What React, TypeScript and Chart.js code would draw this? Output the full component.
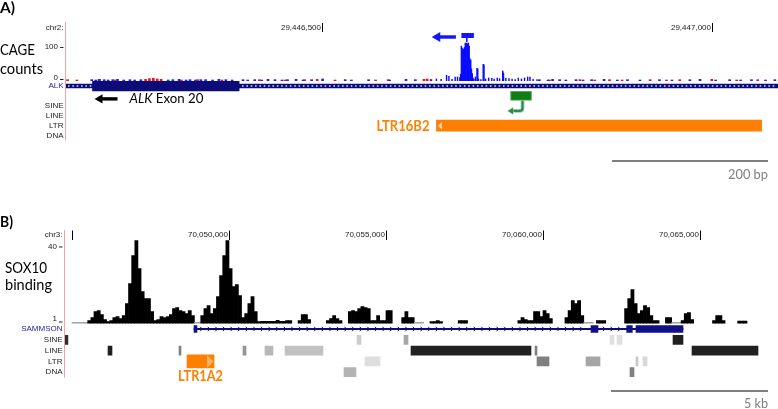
import React, { useEffect, useRef } from 'react';
import { Chart, registerables } from 'chart.js';

Chart.register(...registerables);

// ================= Panel A : chr2 (hg19) — ALK exon 20 / LTR16B2 =================
const A_VIEW = [29446172, 29447085];
const A_TICKS = [29446500, 29447000];
const A_CHROM = 'chr2:';
const A_TRACKS = ['ALK', 'ATI', 'SINE', 'LINE', 'LTR', 'DNA'];
const A_TRACK_NAMES = ['ALK', '', 'SINE', 'LINE', 'LTR', 'DNA'];
const CAGE_RANGE = [0, 152];
const CAGE_LABELS = [100, 0];

// CAGE positions are bp after chr2:29,446,000
const CAGE_ORIGIN = 29446000;
const CAGE_MINUS_POS = [640, 647, 653, 660, 663, 667, 671, 674, 677, 678, 679, 680, 681, 682, 683, 684, 685, 686, 687, 688, 689, 690, 691, 692, 693, 694, 695, 697, 699, 700, 701, 704, 707, 708, 710, 714, 718, 721, 725, 728, 732, 733, 736, 740, 744, 748, 752, 756, 760, 764, 767, 771, 776];
const CAGE_MINUS_VAL = [4, 6, 5, 17, 14, 5, 12, 12, 10, 20, 104, 98, 92, 95, 100, 113, 112, 113, 110, 113, 104, 66, 62, 36, 22, 9, 5, 12, 38, 36, 6, 4, 50, 48, 6, 9, 8, 6, 9, 7, 30, 24, 8, 7, 6, 4, 9, 6, 9, 12, 12, 5, 4];
const CAGE_LOW_MINUS_POS = [205, 210, 215, 221, 226, 232, 238, 246, 254, 260, 268, 303, 309, 317, 326, 331, 338, 345, 351, 360, 368, 377, 385, 399, 405, 414, 423, 431, 440, 449, 456, 467, 476, 487, 501, 530, 538, 560, 587, 608, 620, 779, 790, 796, 805, 813, 826, 835, 846, 862, 879, 892, 908, 933, 949, 972, 985, 1005, 1023, 1037, 1051, 1069, 1081];
const CAGE_LOW_MINUS_VAL = [4, 3, 5, 4, 3, 4, 5, 3, 4, 3, 4, 3, 4, 5, 3, 4, 3, 4, 4, 3, 5, 4, 3, 4, 3, 4, 3, 5, 4, 3, 4, 5, 3, 4, 6, 4, 3, 4, 3, 5, 4, 4, 3, 5, 4, 3, 4, 3, 4, 5, 3, 4, 3, 4, 3, 4, 5, 3, 4, 3, 4, 3, 4];
const CAGE_LOW_PLUS_POS = [174, 186, 214, 235, 274, 279, 284, 289, 294, 320, 341, 372, 420, 453, 478, 494, 517, 569, 585, 631, 635, 640, 792, 831, 850, 869, 885, 921, 942, 959, 1000, 1032, 1059];
const CAGE_LOW_PLUS_VAL = [4, 3, 4, 3, 5, 7, 8, 6, 5, 3, 4, 3, 4, 3, 4, 5, 3, 3, 4, 5, 6, 4, 3, 4, 3, 4, 3, 4, 3, 4, 5, 3, 4];
const CAGE_CLUSTER = [29446679, 29446695];
const CAGE_CLUSTER_PEAK = 29446686;
const CAGE_ARROW = [29446641, 29446672];

const ALK_TX = [29415640, 30144477];
const ALK_EXON20 = [29446206, 29446394];
const ATI_TSS_BOX = [29446742, 29446769];
const LTR16B2 = [29446647, 29447064];
const A_SCALE_BP = 200;

// ================= Panel B : chr3 (hg19) — SAMMSON / LTR1A2 =================
const B_VIEW = [70044777, 70067486];
const B_TICKS = [70045000, 70050000, 70055000, 70060000, 70065000];
const B_CHROM = 'chr3:';
const B_TRACKS = ['SAMMSON', 'SINE', 'LINE', 'LTR', 'DNA'];
const SOX10_RANGE = [0, 45];
const SOX10_LABELS = [40, 1];

const SOX10_START = 70044800;
const SOX10_BIN = 100;
const SOX10_VALUES = [
  null, null, 0.6, 0.6, 0.6, 0.6, 0.6, 1.6, 3.1, 6.3,
  6.8, 4.7, 2.1, 1.0, 1.6, 3.1, 3.7, 2.6, 4.2, 10.4,
  20.9, 35.5, 43.3, 28.7, 16.7, 13.1, 13.1, 6.3, 1.6, 2.1,
  3.7, 3.1, 3.7, 4.7, 7.8, 8.4, 6.8, 6.3, 5.2, 6.8,
  4.2, 0.6, 0.6, 4.2, 7.8, 9.4, 5.2, 7.8, 14.1, 25.1,
  35.5, 43.3, 28.7, 19.3, 20.4, 14.6, 3.1, 5.2, 10.4, 14.1,
  6.3, 1.0, 1.2, 1.2, 1.2, 1.2, 1.2, 1.7, 1.2, 1.2,
  1.6, 1.6, null, null, 1.6, 4.7, 4.7, 2.1, null, null,
  null, null, null, 1.6, 2.6, 4.2, 2.6, 1.6, null, null,
  6.3, 6.8, 6.3, 7.8, 8.9, 8.4, 7.8, 1.6, 1.6, 4.2,
  1.6, 1.6, 6.8, 6.8, null, null, null, 3.1, 6.3, 3.1,
  3.1, 0.6, 0.6, 0.6, null, null, 1.0, 1.0, 1.6, 1.0,
  null, null, null, null, null, 1.6, 1.6, 1.6, null, null,
  null, null, null, null, null, null, null, null, null, null,
  null, null, null, null, 1.6, 3.1, 2.1, 1.6, 1.6, 6.3,
  6.3, 3.7, 6.8, 5.2, 2.6, null, null, null, null, 3.1,
  6.8, 12.0, 10.4, 12.0, 4.2, 0.6, 0.6, 0.6, null, 1.6,
  1.6, 1.6, null, null, null, null, null, null, 7.8, 13.1,
  17.8, 10.4, 5.2, 6.8, 9.4, 8.4, 4.2, 1.6, 1.6, null,
  null, 3.1, 3.1, 0.6, 0.6, 0.6, 1.6, 5.2, 5.7, 2.1,
  null, null, null, null, null, null, 1.6, 4.2, 4.2, 1.6,
  null, null, null, null, 1.3, 1.3, 1.3, null, null, null,
  null, null, null, null, null, null, null,
];

const SAMMSON_TX = [70048886, 70064460];
const SAMMSON_EXON_START = [70048886, 70061530, 70062667, 70062963];
const SAMMSON_EXON_END = [70048981, 70061753, 70062846, 70064460];

const REP_B_START = [70044780, 70054077, 70055574, 70062135, 70062358, 70064142, 70046147, 70048408, 70050446, 70051147, 70051784, 70055797, 70059747, 70064747, 70054332, 70059810, 70061371, 70062963, 70063186, 70053663, 70062772];
const REP_B_END = [70044870, 70054205, 70055702, 70062263, 70062518, 70064460, 70046274, 70048472, 70050542, 70051401, 70052994, 70059619, 70059810, 70066849, 70054810, 70060192, 70061817, 70063027, 70063314, 70054045, 70062900];
const REP_B_CLASS = ['SINE', 'SINE', 'SINE', 'SINE', 'SINE', 'SINE', 'LINE', 'LINE', 'LINE', 'LINE', 'LINE', 'LINE', 'LINE', 'LINE', 'LTR', 'LTR', 'LTR', 'LTR', 'LTR', 'DNA', 'DNA'];
const REP_B_SHADE = [0.82, 0.2, 0.35, 0.12, 0.12, 0.88, 0.88, 0.5, 0.42, 0.28, 0.24, 0.87, 0.5, 0.87, 0.13, 0.5, 0.35, 0.22, 0.15, 0.3, 0.5];
const LTR1A2 = [70048663, 70049523];
const B_SCALE_BP = 5000;

// ================= styles =================
const FONT_UCSC = '8px "Liberation Sans", Arial, sans-serif';
const FONT_UI = 'Lato, "Open Sans", sans-serif';
const NAVY = '#0c0c78';
const GENE_LABEL = '#1c1c9c';
const LABEL = '#222222';
const ORANGE = '#ff8000';
const PINK = '#f2a2a2';
const SCALE_GRAY = '#7f7f7f';

type TextOpts = { font: string; color?: string; align?: CanvasTextAlign; baseline?: CanvasTextBaseline; width?: number };

function drawText(ctx: CanvasRenderingContext2D, s: string, x: number, y: number, o: TextOpts) {
  ctx.save();
  ctx.font = o.font;
  ctx.fillStyle = o.color || '#000';
  ctx.textAlign = o.align || 'left';
  ctx.textBaseline = o.baseline || 'alphabetic';
  const k = o.width ? o.width / ctx.measureText(s).width : 1;
  ctx.translate(x, y);
  ctx.scale(k, 1);
  ctx.fillText(s, 0, 0);
  ctx.restore();
}

function drawRich(ctx: CanvasRenderingContext2D, parts: { s: string; font: string }[], x: number, y: number, color: string, width: number) {
  ctx.save();
  let total = 0;
  for (const p of parts) { ctx.font = p.font; total += ctx.measureText(p.s).width; }
  ctx.translate(x, y);
  ctx.scale(width / total, 1);
  ctx.fillStyle = color;
  ctx.textAlign = 'left';
  ctx.textBaseline = 'alphabetic';
  let cx = 0;
  for (const p of parts) { ctx.font = p.font; ctx.fillText(p.s, cx, 0); cx += ctx.measureText(p.s).width; }
  ctx.restore();
}

function line(ctx: CanvasRenderingContext2D, x1: number, y1: number, x2: number, y2: number, color: string, w = 1) {
  ctx.save();
  ctx.strokeStyle = color;
  ctx.lineWidth = w;
  ctx.beginPath();
  ctx.moveTo(x1, y1);
  ctx.lineTo(x2, y2);
  ctx.stroke();
  ctx.restore();
}

function poly(ctx: CanvasRenderingContext2D, pts: number[][], color: string) {
  ctx.save();
  ctx.fillStyle = color;
  ctx.beginPath();
  pts.forEach(([px, py], i) => (i ? ctx.lineTo(px, py) : ctx.moveTo(px, py)));
  ctx.closePath();
  ctx.fill();
  ctx.restore();
}

function drawRuler(ctx: CanvasRenderingContext2D, scale: any, ticks: number[], chrom: string, left: number, yTop: number, yBot: number) {
  const yMid = (yTop + yBot) / 2;
  drawText(ctx, chrom, left - 2.5, yMid, { font: FONT_UCSC, color: LABEL, align: 'right', baseline: 'middle' });
  ctx.save();
  ctx.font = FONT_UCSC;
  for (const t of ticks) {
    const px = Math.round(scale.getPixelForValue(t)) + 0.5;
    line(ctx, px, yTop, px, yBot, '#000', 1);
    const label = t.toLocaleString('en-US');
    const w = ctx.measureText(label).width;
    if (px - 2 - w > left + 2) drawText(ctx, label, px - 1.5, yMid, { font: FONT_UCSC, color: LABEL, align: 'right', baseline: 'middle' });
  }
  ctx.restore();
}

function drawYLabel(ctx: CanvasRenderingContext2D, v: number, py: number, textDy: number, dashDy: number, left: number) {
  drawText(ctx, String(v), left - 8, py + textDy, { font: FONT_UCSC, color: LABEL, align: 'right', baseline: 'middle' });
  line(ctx, left - 6, py + dashDy, left - 2.5, py + dashDy, LABEL, 1);
}

function scaleBar(ctx: CanvasRenderingContext2D, scale: any, bp: number, right: number, y: number, label: string, textY: number, textW: number) {
  const len = scale.getPixelForValue(scale.min + bp) - scale.getPixelForValue(scale.min);
  line(ctx, right - len, y, right, y, SCALE_GRAY, 2);
  drawText(ctx, label, right, textY, { font: `13px ${FONT_UI}`, color: SCALE_GRAY, align: 'right', width: textW });
}

// ---------------- Panel A overlay ----------------
const panelAPlugin = {
  id: 'panelA',
  afterDraw(chart: any) {
    const { ctx, chartArea: area, scales } = chart;
    const { x, xT, yS, yT } = scales;
    drawText(ctx, 'A)', 0, 12.5, { font: `bold 15px ${FONT_UI}`, width: 15 });
    drawText(ctx, 'CAGE', 0, 55, { font: `15px ${FONT_UI}`, width: 35 });
    drawText(ctx, 'counts', 0, 74, { font: `15px ${FONT_UI}`, width: 43 });
    line(ctx, area.left - 0.5, 22, area.left - 0.5, area.bottom, PINK, 1);
    drawRuler(ctx, x, A_TICKS, A_CHROM, area.left, 23, 32);
    CAGE_LABELS.forEach((v, i) => {
      const py = yS.getPixelForValue(v);
      if (i === 0) drawYLabel(ctx, v, py, -1, 0, area.left);
      else drawYLabel(ctx, v, py, -3.5, -1.5, area.left);
    });
    A_TRACK_NAMES.forEach((name, i) => {
      if (!name) return;
      drawText(ctx, name, area.left - 2.5, yT.getPixelForValue(i), { font: FONT_UCSC, color: i === 0 ? GENE_LABEL : LABEL, align: 'right', baseline: 'middle' });
    });

    // ALK intron strand marks (minus strand)
    const gy = yT.getPixelForValue(0);
    const e0 = xT.getPixelForValue(ALK_EXON20[0]);
    const e1 = xT.getPixelForValue(ALK_EXON20[1]);
    ctx.save();
    ctx.fillStyle = 'rgba(190,190,240,0.85)';
    for (let px = area.left + 2; px < area.right - 1; px += 4.35) {
      if (px > e0 - 2 && px < e1 + 1) continue;
      ctx.fillRect(px, gy - 1, 1.6, 2);
    }
    ctx.restore();

    // "<- ALK Exon 20"
    const ly = yT.getPixelForValue(1);
    poly(ctx, [[e0 + 2, ly + 3], [e0 + 10, ly - 1.6], [e0 + 10, ly + 7.6]], '#000');
    ctx.fillStyle = '#000';
    ctx.fillRect(e0 + 9, ly + 1.3, 16, 3.4);
    drawRich(ctx, [
      { s: 'ALK', font: `italic 13px ${FONT_UI}` },
      { s: ' Exon 20', font: `13px ${FONT_UI}` },
    ], e0 + 37, ly + 7.2, '#000', 74);

    // CAGE TSS cluster annotation (minus strand)
    const ct = area.top;
    const c0 = x.getPixelForValue(CAGE_CLUSTER[0]);
    const c1 = x.getPixelForValue(CAGE_CLUSTER[1]);
    const cp = x.getPixelForValue(CAGE_CLUSTER_PEAK);
    ctx.fillStyle = '#1414ff';
    ctx.fillRect(c0, ct + 3, c1 - c0, 5);
    ctx.fillRect(cp - 0.8, ct + 8, 1.6, 4);
    const a0 = x.getPixelForValue(CAGE_ARROW[0]);
    const a1 = x.getPixelForValue(CAGE_ARROW[1]);
    poly(ctx, [[a0, ct + 7], [a0 + 8.5, ct + 2], [a0 + 8.5, ct + 12]], '#1414ff');
    ctx.fillStyle = '#1414ff';
    ctx.fillRect(a0 + 8, ct + 5.3, a1 - a0 - 8, 3.4);

    // ALK-ATI transcription start (hooked arrow)
    const b0 = xT.getPixelForValue(ATI_TSS_BOX[0]);
    const b1 = xT.getPixelForValue(ATI_TSS_BOX[1]);
    const bx = (b0 + b1) / 2 + 1.5;
    const by = ly + 4.5;
    const hy = by + 10.5;
    const tip = b0 - 2.5;
    ctx.save();
    ctx.lineJoin = 'round';
    for (const [col, w] of [['#a9d6d0', 4], ['#2f8a45', 2.2]] as [string, number][]) {
      ctx.strokeStyle = col;
      ctx.lineWidth = w;
      ctx.beginPath();
      ctx.moveTo(bx, by);
      ctx.lineTo(bx, hy - 3);
      ctx.quadraticCurveTo(bx, hy, bx - 3, hy);
      ctx.lineTo(tip + 5, hy);
      ctx.stroke();
    }
    ctx.restore();
    poly(ctx, [[tip - 1, hy], [tip + 5.5, hy - 4.2], [tip + 5.5, hy + 4.2]], '#a9d6d0');
    poly(ctx, [[tip, hy], [tip + 5, hy - 3.2], [tip + 5, hy + 3.2]], '#2f8a45');

    // LTR16B2 label + strand mark
    const ry = yT.getPixelForValue(4);
    const r0 = xT.getPixelForValue(LTR16B2[0]);
    poly(ctx, [[r0 + 1.5, ry], [r0 + 5.5, ry - 4], [r0 + 5.5, ry + 4]], '#ffd2a6');
    drawText(ctx, 'LTR16B2', r0 - 7, ry + 5.4, { font: `bold 15px ${FONT_UI}`, color: ORANGE, align: 'right', width: 53 });

    scaleBar(ctx, x, A_SCALE_BP, 768, 161, '200 bp', 178.5, 40);
  },
};

// ---------------- Panel B overlay ----------------
const panelBPlugin = {
  id: 'panelB',
  afterDraw(chart: any) {
    const { ctx, chartArea: area, scales } = chart;
    const { x, xT, yS, yT } = scales;
    drawText(ctx, 'B)', 0, 226.5, { font: `bold 15px ${FONT_UI}`, width: 13 });
    drawText(ctx, 'SOX10', 5, 273.3, { font: `15px ${FONT_UI}`, width: 42 });
    drawText(ctx, 'binding', 5, 290, { font: `15px ${FONT_UI}`, width: 47 });
    line(ctx, area.left - 0.5, 230, area.left - 0.5, area.bottom, PINK, 1);
    drawRuler(ctx, x, B_TICKS, B_CHROM, area.left, 230.5, 240);
    SOX10_LABELS.forEach((v, i) => {
      const py = yS.getPixelForValue(v);
      if (i === 0) drawYLabel(ctx, v, py, -0.5, 0, area.left);
      else drawYLabel(ctx, v, py, -3, 0.3, area.left);
    });
    B_TRACKS.forEach((name, i) => {
      drawText(ctx, name, area.left - 2.5, yT.getPixelForValue(i), { font: FONT_UCSC, color: i === 0 ? GENE_LABEL : LABEL, align: 'right', baseline: 'middle' });
    });

    // SAMMSON intron strand chevrons (plus strand)
    const gy = yT.getPixelForValue(0);
    const t0 = xT.getPixelForValue(SAMMSON_TX[0]);
    const t1 = xT.getPixelForValue(SAMMSON_TX[1]);
    ctx.save();
    ctx.strokeStyle = NAVY;
    ctx.lineWidth = 1;
    for (let px = t0 + 8; px < t1 - 2; px += 7.6) {
      const inExon = SAMMSON_EXON_START.some((s, k) => px > xT.getPixelForValue(s) - 2.5 && px < xT.getPixelForValue(SAMMSON_EXON_END[k]) + 3);
      if (inExon) continue;
      ctx.beginPath();
      ctx.moveTo(px - 1.8, gy - 2.2);
      ctx.lineTo(px, gy);
      ctx.lineTo(px - 1.8, gy + 2.2);
      ctx.stroke();
    }
    ctx.restore();

    // LTR1A2 strand mark + label
    const ry = yT.getPixelForValue(3);
    const l0 = xT.getPixelForValue(LTR1A2[0]);
    const l1 = xT.getPixelForValue(LTR1A2[1]);
    poly(ctx, [[l1 - 7, ry - 6.5], [l1 - 0.5, ry], [l1 - 7, ry + 6.5]], '#ffb366');
    drawText(ctx, 'LTR1A2', (l0 + l1) / 2, 380.7, { font: `bold 15px ${FONT_UI}`, color: ORANGE, align: 'center', width: 45 });

    scaleBar(ctx, x, B_SCALE_BP, 768, 391, '5 kb', 408, 24);
  },
};

const signalBase = { type: 'bar', xAxisID: 'x', yAxisID: 'yS', grouped: false, barPercentage: 1, categoryPercentage: 1, borderWidth: 0, clip: 0 };
const trackBase = { type: 'bar', indexAxis: 'y', xAxisID: 'xT', yAxisID: 'yT', grouped: false, borderWidth: 0, borderSkipped: false, clip: 0 };

function baseOptions(view: number[], tracks: string[], range: number[], pad: any, trackWeight: number, signalWeight: number) {
  return {
    responsive: false,
    animation: false,
    devicePixelRatio: 1,
    events: [],
    layout: { padding: pad },
    plugins: { legend: { display: false }, tooltip: { enabled: false } },
    scales: {
      x: { type: 'linear', display: false, min: view[0], max: view[1], offset: false, bounds: 'data' },
      xT: { type: 'linear', display: false, min: view[0], max: view[1], offset: false, bounds: 'data' },
      yT: { type: 'category', labels: tracks, display: false, offset: true, position: 'left', stack: 'tracks', stackWeight: trackWeight },
      yS: { type: 'linear', display: false, min: range[0], max: range[1], position: 'left', stack: 'tracks', stackWeight: signalWeight },
    },
  };
}

function makeChartA(canvas: HTMLCanvasElement) {
  const pts = (pos: number[], val: number[]) => pos.map((p, i) => ({ x: CAGE_ORIGIN + p, y: val[i] }));
  return new Chart(canvas, {
    type: 'bar',
    data: {
      datasets: [
        { ...trackBase, label: 'ALK exon 20', data: [{ x: ALK_EXON20, y: 'ALK' }], barThickness: 10, backgroundColor: NAVY },
        { ...trackBase, label: 'ALK', data: [{ x: ALK_TX, y: 'ALK' }], barThickness: 4, backgroundColor: NAVY },
        { ...trackBase, label: 'ALK-ATI TSS', data: [{ x: ATI_TSS_BOX, y: 'ATI' }], barThickness: 9, backgroundColor: '#0f7d12', borderColor: '#5aa55a', borderWidth: 1 },
        { ...trackBase, label: 'LTR16B2', data: [{ x: LTR16B2, y: 'LTR' }], barThickness: 11, backgroundColor: ORANGE },
        { ...signalBase, label: 'CAGE (-)', data: pts(CAGE_MINUS_POS, CAGE_MINUS_VAL), backgroundColor: '#0a0aff' },
        { ...signalBase, label: 'CAGE (-) low', data: pts(CAGE_LOW_MINUS_POS, CAGE_LOW_MINUS_VAL), backgroundColor: '#2020ff', barThickness: 2 },
        { ...signalBase, label: 'CAGE (+) low', data: pts(CAGE_LOW_PLUS_POS, CAGE_LOW_PLUS_VAL), backgroundColor: '#f01414', barThickness: 2 },
      ],
    },
    options: baseOptions(A_VIEW, A_TRACKS, CAGE_RANGE, { left: 66, right: 0, top: 30, bottom: 409 - 140.5 }, 59.5, 51),
    plugins: [panelAPlugin],
  } as any);
}

function makeChartB(canvas: HTMLCanvasElement) {
  const sox = SOX10_VALUES
    .map((v, i) => (v == null ? null : { x: SOX10_START + SOX10_BIN * (i + 0.5), y: v }))
    .filter(Boolean);
  const repColor = (c: any) => {
    const s = REP_B_SHADE[c.dataIndex];
    const g = Math.round(255 * (1 - s));
    return `rgb(${g},${g},${g})`;
  };
  return new Chart(canvas, {
    type: 'bar',
    data: {
      datasets: [
        { ...trackBase, label: 'SAMMSON exons', data: SAMMSON_EXON_START.map((s, i) => ({ x: [s, SAMMSON_EXON_END[i]], y: 'SAMMSON' })), barThickness: 7, backgroundColor: '#10108a' },
        { ...trackBase, label: 'SAMMSON', data: [{ x: SAMMSON_TX, y: 'SAMMSON' }], barThickness: 1.2, backgroundColor: NAVY },
        { ...trackBase, label: 'LTR1A2', data: [{ x: LTR1A2, y: 'LTR' }], barThickness: 13, backgroundColor: ORANGE },
        { ...trackBase, label: 'RepeatMasker', data: REP_B_START.map((s, i) => ({ x: [s, REP_B_END[i]], y: REP_B_CLASS[i] })), barThickness: 9, backgroundColor: repColor },
        { ...signalBase, label: 'SOX10', data: sox, backgroundColor: (c: any) => (c.raw && c.raw.y < 1 ? '#a3a3a3' : '#000000') },
      ],
    },
    options: baseOptions(B_VIEW, B_TRACKS, SOX10_RANGE, { left: 65, right: 0, top: 237.4, bottom: 409 - 377.6 }, 54, 86.2),
    plugins: [panelBPlugin],
  } as any);
}

export default function App() {
  const refA = useRef<HTMLCanvasElement>(null);
  const refB = useRef<HTMLCanvasElement>(null);
  useEffect(() => {
    const chartB = makeChartB(refB.current!);
    const chartA = makeChartA(refA.current!);
    return () => {
      chartA.destroy();
      chartB.destroy();
    };
  }, []);
  const cv: React.CSSProperties = { position: 'absolute', left: 0, top: 0, width: 778, height: 409 };
  return (
    <div style={{ position: 'fixed', left: 0, top: 0, width: 778, height: 409, background: '#fff', overflow: 'hidden' }}>
      <canvas ref={refB} width={778} height={409} style={cv} />
      <canvas ref={refA} width={778} height={409} style={cv} />
    </div>
  );
}
